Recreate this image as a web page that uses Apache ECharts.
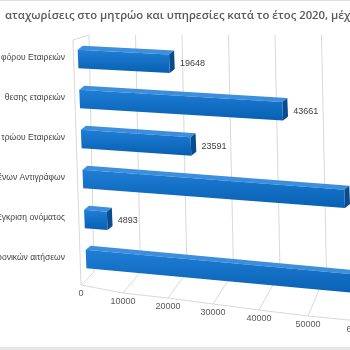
<!DOCTYPE html>
<html><head><meta charset="utf-8">
<script src="https://cdn.jsdelivr.net/npm/echarts@6/dist/echarts.min.js"></script>
<style>html,body{margin:0;padding:0;background:#fff}#c{width:350px;height:350px}</style>
</head><body><div id="c"></div>
<script>
// ---- data ----
const titleText = 'αταχωρίσεις στο μητρώο και υπηρεσίες κατά το έτος 2020, μέχρι';
const categories = ['φόρου Εταιρειών', 'θεσης εταιρειών', 'τρώου Εταιρειών', 'ένων Αντιγράφων', 'Έγκριση ονόματος', 'ρονικών αιτήσεων'];
const values = [19648, 43661, 23591, 56300, 4893, 66000];
const tickValues = [0, 10000, 20000, 30000, 40000, 50000, 60000];
const tickLabels = ['0', '10000', '20000', '30000', '40000', '50000', '60000'];

// ---- style (3D look) ----
const FONT = 'Liberation Sans';
const LBL_DX = [3, -1.5, -3, -4.5, -5, -2.5, 2];
const LBL_DY = [0, 8, 13, 19, 25, 31, 36];
const GRID_COLOR = '#d9d9d9';

const rich = {};
LBL_DX.forEach((dx, i) => {
  rich['t' + i] = {
    fontSize: 9, fontFamily: FONT, color: '#595959',
    padding: [LBL_DY[i], dx < 0 ? -2 * dx : 0, 0, dx > 0 ? 2 * dx : 0]
  };
});

function P(x, y, ref) {
  const k = 0.052 + 0.0002 * (ref.yc - ref.y0);
  return [x + 0.04 * (y - ref.y0), y + k * (x - ref.x0)];
}

function renderBar(params, api) {
  const v = api.value(0), ci = api.value(1);
  const p0 = api.coord([0, ci]), p1 = api.coord([v, ci]);
  const band = api.size([0, 1])[1];
  const y0 = api.coord([0, 0])[1];
  const ref = { x0: p0[0], y0: y0, yc: p0[1] };
  const h = band * 0.46;
  const t = p0[1] - h / 2 + 1, b = p0[1] + h / 2 + 1;
  const A = P(p0[0], t, ref), B = P(p1[0], t, ref), C = P(p1[0], b, ref), D = P(p0[0], b, ref);
  const dx = 5, dy = -4;
  const add = p => [p[0] + dx, p[1] + dy];
  return {
    type: 'group', children: [
      { type: 'polygon', shape: { points: [A, add(A), add(B), B] }, style: { fill: '#3d8fdc' } },
      { type: 'polygon', shape: { points: [B, add(B), add(C), C] }, style: { fill: '#0a4b8e' } },
      { type: 'polygon', shape: { points: [A, B, C, D] },
        style: { fill: new echarts.graphic.LinearGradient(0, 0, 0, 1, [{ offset: 0, color: '#1f7ed6' }, { offset: 1, color: '#0760b2' }]) } },
      { type: 'text', x: B[0] + dx + 6, y: (B[1] + C[1]) / 2,
        style: { text: String(v), fontSize: 9, fontFamily: FONT, fill: '#404040', verticalAlign: 'middle', align: 'left' } }
    ]
  };
}

function renderGrid(params, api) {
  const i = params.dataIndex;
  const t = api.value(0);
  const c = api.coord([t, 0]);
  const band = api.size([0, 1])[1];
  const gridTop = c[1] - band / 2;
  const gridBottom = gridTop + band * categories.length;
  const bx = c[0];
  const topP = [bx + 11, gridTop - 3];
  const botP = [bx + 16, gridBottom - 6];
  const front = [bx + LBL_DX[i], gridBottom + 7 + LBL_DY[i]];
  const st = { stroke: GRID_COLOR, lineWidth: 1 };
  const ch = [
    { type: 'line', shape: { x1: topP[0], y1: topP[1], x2: botP[0], y2: botP[1] }, style: st },
    { type: 'line', shape: { x1: botP[0], y1: botP[1], x2: front[0], y2: front[1] }, style: st }
  ];
  if (i > 0) {
    const pc = api.coord([tickValues[i - 1], 0]);
    const pf = [pc[0] + LBL_DX[i - 1], gridBottom + 7 + LBL_DY[i - 1]];
    ch.push({ type: 'line', shape: { x1: pf[0], y1: pf[1], x2: front[0], y2: front[1] }, style: st });
  } else {
    const wl = [bx - 5, gridTop + 2];
    ch.push({ type: 'line', shape: { x1: wl[0], y1: wl[1], x2: topP[0], y2: topP[1] }, style: st });
    ch.push({ type: 'line', shape: { x1: wl[0], y1: wl[1], x2: front[0], y2: front[1] }, style: st });
  }
  return { type: 'group', children: ch };
}

const chart = echarts.init(document.getElementById('c'), null, { renderer: 'canvas' });
chart.setOption({
  animation: false,
  backgroundColor: '#ffffff',
  title: {
    text: titleText, left: 0, top: 5,
    textStyle: { fontSize: 11.3, fontWeight: 600, color: '#595959', fontFamily: 'Open Sans' }
  },
  graphic: [
    { type: 'line', shape: { x1: 0, y1: 0.5, x2: 350, y2: 0.5 }, style: { stroke: '#e0e0e0' } },
    { type: 'rect', shape: { x: 0, y: 347, width: 350, height: 3 }, style: { fill: '#e6e6e6' } }
  ],
  grid: { left: 78, right: -7, top: 38, bottom: 72, containLabel: false, outerBoundsMode: 'none' },
  xAxis: {
    type: 'value', min: 0, max: 60000, interval: 10000,
    axisLine: { show: false }, axisTick: { show: false }, splitLine: { show: false },
    axisLabel: {
      margin: 11, rich: rich,
      formatter: (val) => {
        const i = tickValues.indexOf(val);
        return i < 0 ? '' : '{t' + i + '|' + tickLabels[i] + '}';
      }
    }
  },
  yAxis: {
    type: 'category', data: categories, inverse: true,
    axisLine: { show: false }, axisTick: { show: false }, splitLine: { show: false },
    axisLabel: { fontSize: 8.5, fontFamily: FONT, color: '#404040', margin: 13, padding: [7, 0, 0, 0] }
  },
  series: [
    { type: 'custom', renderItem: renderGrid, data: tickValues.map(t => [t, 0]), z: 1, silent: true, clip: false },
    { type: 'custom', renderItem: renderBar, data: values.map((v, i) => [v, i]), z: 3, clip: false,
      encode: { x: 0, y: 1 } }
  ]
});
</script>
</body></html>
